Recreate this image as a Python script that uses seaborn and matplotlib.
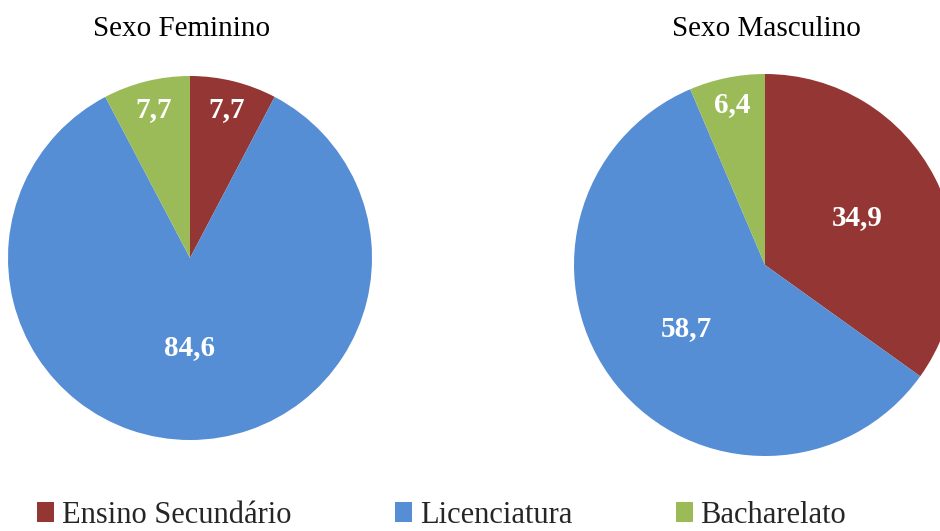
import matplotlib.pyplot as plt
import seaborn as sns
import numpy as np

# Data
categorias = ['Ensino Secundário', 'Licenciatura', 'Bacharelato']
feminino = [7.7, 84.6, 7.7]
masculino = [34.9, 58.7, 6.4]
titulos = ['Sexo Feminino', 'Sexo Masculino']

cores = ['#943634', '#558ED5', '#9BBB59']

sns.set_theme(style="white")
plt.rcParams['font.family'] = ['Liberation Serif', 'DejaVu Serif']

fig = plt.figure(figsize=(9.4, 5.31), dpi=100)
ax = fig.add_axes([0, 0, 1, 1])

# pie layout in pixel-like units (y up)
pies = [
    dict(values=feminino, title=titulos[0], center=(190, 273), radius=182,
         dist=[0.84, 0.49, 0.84], title_x=182),
    dict(values=masculino, title=titulos[1], center=(765, 266), radius=191,
         dist=[0.54, 0.53, 0.86], title_x=766),
]

wedges_ref = None
for p in pies:
    wedges, _ = ax.pie(p['values'], colors=cores, startangle=90,
                       counterclock=False, center=p['center'],
                       radius=p['radius'], frame=True,
                       wedgeprops=dict(linewidth=0))
    if wedges_ref is None:
        wedges_ref = wedges
    cx, cy = p['center']
    for w, v, d in zip(wedges, p['values'], p['dist']):
        mid = np.deg2rad((w.theta1 + w.theta2) / 2)
        x = cx + d * p['radius'] * np.cos(mid)
        y = cy + d * p['radius'] * np.sin(mid)
        ax.text(x, y, f"{v:.1f}".replace('.', ','), ha='center', va='center',
                color='white', fontsize=21, fontweight='bold')
    ax.text(p['title_x'], 502, p['title'], ha='center', va='center',
            fontsize=21, color='black')

ax.set_xlim(0, 940)
ax.set_ylim(0, 531)
ax.set_axis_off()

fig.legend(wedges_ref, categorias, loc='center', bbox_to_anchor=(0.47, 0.03),
           ncol=3, frameon=False, fontsize=22, handlelength=0.55,
           handleheight=0.6, handletextpad=0.25, columnspacing=3.4,
           borderpad=0)

fig.savefig('out.png', dpi=100)
